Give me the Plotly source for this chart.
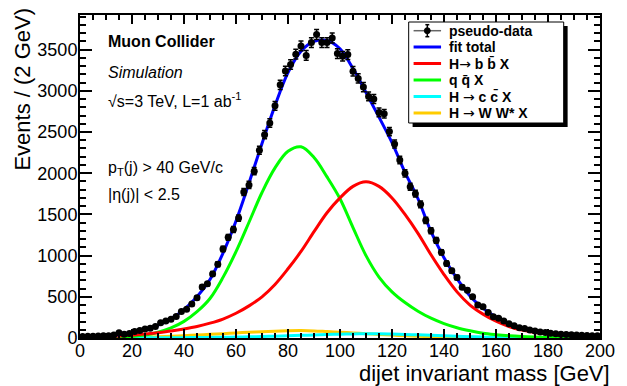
import numpy as np
import plotly.graph_objects as go

# ---------------- data ----------------
bin_centers = list(range(1, 200, 2))
counts = [18, 20, 20, 24, 26, 28, 35, 65, 45, 55,
          80, 92, 108, 118, 140, 185, 205, 228, 262, 322,
          348, 412, 488, 620, 658, 778, 895, 1080, 1222, 1318,
          1455, 1772, 1858, 2025, 2278, 2468, 2610, 2818, 3072, 3240,
          3318, 3445, 3545, 3430, 3585, 3682, 3585, 3585, 3642, 3452,
          3420, 3440, 3238, 3150, 3045, 2932, 2900, 2738, 2722, 2505,
          2355, 2160, 1998, 1835, 1752, 1622, 1428, 1302, 1185, 1040,
          905, 815, 735, 615, 580, 500, 402, 378, 310, 258,
          240, 207, 172, 150, 125, 116, 96, 86, 74, 66,
          58, 52, 47, 43, 40, 36, 33, 30, 28, 26]

curve_x = list(range(0, 205, 5))
fit_total = [12, 16, 24, 40, 62, 100, 155, 235, 345, 500,
             710, 1030, 1420, 1880, 2360, 2820, 3220, 3480, 3600, 3610,
             3510, 3270, 2980, 2680, 2370, 2010, 1690, 1290, 975, 720,
             510, 360, 255, 175, 120, 85, 60, 45, 35, 28, 22]
h_bb = [8, 11, 16, 24, 36, 48, 65, 85, 110, 140,
        180, 230, 300, 390, 500, 650, 840, 1050, 1290, 1520,
        1700, 1840, 1895, 1840, 1700, 1500, 1270, 1010, 770, 560,
        400, 290, 205, 140, 96, 68, 48, 35, 25, 18, 12]
qq = [0, 1, 3, 7, 18, 35, 70, 122, 202, 320,
      480, 736, 1048, 1405, 1766, 2064, 2266, 2320, 2190, 1955,
      1690, 1340, 1000, 740, 560, 430, 325, 240, 175, 125,
      88, 58, 40, 27, 18, 12, 8, 6, 4, 3, 2]
h_cc = [0, 0, 0, 1, 1, 2, 3, 3, 4, 6,
        7, 9, 11, 14, 18, 22, 27, 32, 37, 42,
        46, 50, 52, 52, 48, 43, 38, 32, 26, 21,
        16, 12, 9, 7, 5, 4, 2, 2, 1, 1, 0]
h_ww = [0, 1, 2, 4, 6, 10, 15, 21, 28, 36,
        45, 53, 62, 70, 77, 83, 88, 90, 86, 78,
        70, 61, 52, 43, 35, 28, 22, 17, 13, 10,
        8, 6, 4, 3, 2, 2, 1, 1, 1, 0, 0]

x_ticks = list(range(0, 201, 20))
y_ticks = list(range(0, 3501, 500))

FONT = "Liberation Sans, Arial, Helvetica, sans-serif"

# ---------------- figure ----------------
W, H = 627, 386
L, R, T, B = 80, 610, 15, 338


def px2x(px):
    return (px - L) / (R - L)


def py2y(py):
    return (B - py) / (B - T)


fig = go.Figure()
fig.add_trace(go.Scatter(x=curve_x, y=h_ww, mode="lines",
                         line=dict(color="#ffcc00", width=3, shape="spline")))
fig.add_trace(go.Scatter(x=curve_x, y=h_cc, mode="lines",
                         line=dict(color="#00ffff", width=3, shape="spline")))
fig.add_trace(go.Scatter(x=curve_x, y=qq, mode="lines",
                         line=dict(color="#00ff00", width=3, shape="spline")))
fig.add_trace(go.Scatter(x=curve_x, y=h_bb, mode="lines",
                         line=dict(color="#ff0000", width=3, shape="spline")))
fig.add_trace(go.Scatter(x=curve_x, y=fit_total, mode="lines",
                         line=dict(color="#0000ff", width=3, shape="spline")))
fig.add_trace(go.Scatter(x=bin_centers, y=counts, mode="markers", cliponaxis=False,
                         marker=dict(color="black", size=7),
                         error_y=dict(type="data", array=np.sqrt(np.array(counts, dtype=float)),
                                      color="black", thickness=1.5, width=2.5)))

axis_common = dict(showgrid=False, zeroline=False, showline=True, linewidth=2,
                   linecolor="black", mirror="allticks", ticks="inside",
                   tickcolor="black", tickwidth=1.5,
                   tickfont=dict(family=FONT, size=18, color="black"),
                   exponentformat="none", separatethousands=False)

fig.update_layout(
    width=W, height=H,
    margin=dict(l=L, r=W - R, t=T, b=H - B, pad=0),
    plot_bgcolor="white", paper_bgcolor="white",
    showlegend=False,
    xaxis=dict(range=[0, 200], tickmode="array", tickvals=x_ticks, ticklen=9,
               ticklabelstandoff=-5,
               minor=dict(dtick=5, tick0=0, ticklen=5, ticks="inside", tickcolor="black", tickwidth=1.5),
               **axis_common),
    yaxis=dict(range=[0, 3920], tickmode="array", tickvals=y_ticks, ticklen=12,
               ticklabelstandoff=-3,
               minor=dict(dtick=100, tick0=0, ticklen=6, ticks="inside", tickcolor="black", tickwidth=1.5),
               **axis_common),
)

ann = []
# axis titles
ann.append(dict(text="Events / (2 GeV)", x=px2x(21), y=py2y(6), xref="paper", yref="paper",
                xanchor="center", yanchor="top", textangle=-90, showarrow=False,
                font=dict(family=FONT, size=22, color="black")))
ann.append(dict(text="dijet invariant mass [GeV]", x=px2x(622), y=py2y(373), xref="paper", yref="paper",
                xanchor="right", yanchor="middle", showarrow=False,
                font=dict(family=FONT, size=22, color="black")))

# labels inside plot
labels = [
    ("<b>Muon Collider</b>", 42),
    ("<i>Simulation</i>", 73),
    ("√s=3 TeV, L=1 ab<sup>-1</sup>", 100),
    ("p<sub>T</sub>(j) > 40 GeV/c", 168),
    ("|η(j)| < 2.5", 194),
]
for txt, yc in labels:
    ann.append(dict(text=txt, x=px2x(107), y=py2y(yc), xref="paper", yref="paper",
                    xanchor="left", yanchor="middle", showarrow=False,
                    font=dict(family=FONT, size=16, color="black")))

# manual legend
shapes = []
lx0, lx1, ly0, ly1 = 415, 573, 22, 123
shapes.append(dict(type="rect", xref="paper", yref="paper",
                   x0=px2x(lx0 + 4), x1=px2x(lx1 + 4), y0=py2y(ly1 + 4), y1=py2y(ly0 + 4),
                   fillcolor="black", line=dict(width=0), layer="above"))
shapes.append(dict(type="rect", xref="paper", yref="paper",
                   x0=px2x(lx0), x1=px2x(lx1), y0=py2y(ly1), y1=py2y(ly0),
                   fillcolor="white", line=dict(color="black", width=1), layer="above"))

arrow = '<span style="font-family:\'DejaVu Sans\';font-weight:normal">\u2192</span>'
entries = [
    ("pseudo-data", None),
    ("fit total", "#0000ff"),
    ("H" + arrow + " b b\u0304 X", "#ff0000"),
    ("q q\u0304 X", "#00ff00"),
    ("H " + arrow + " c c\u0304 X", "#00ffff"),
    ("H " + arrow + " W W* X", "#ffcc00"),
]
row_y = [30.7, 47.0, 63.5, 80.0, 96.5, 113.0]
for (txt, col), yc in zip(entries, row_y):
    if col is None:
        shapes.append(dict(type="line", xref="paper", yref="paper",
                           x0=px2x(420), x1=px2x(448), y0=py2y(yc), y1=py2y(yc),
                           line=dict(color="#666666", width=1.5), layer="above"))
        shapes.append(dict(type="line", xref="paper", yref="paper",
                           x0=px2x(434), x1=px2x(434), y0=py2y(yc - 6), y1=py2y(yc + 6),
                           line=dict(color="black", width=1.5), layer="above"))
        for dy in (-6, 6):
            shapes.append(dict(type="line", xref="paper", yref="paper",
                               x0=px2x(432), x1=px2x(436), y0=py2y(yc + dy), y1=py2y(yc + dy),
                               line=dict(color="black", width=1.5), layer="above"))
        shapes.append(dict(type="circle", xref="paper", yref="paper",
                           x0=px2x(431), x1=px2x(437), y0=py2y(yc + 3), y1=py2y(yc - 3),
                           fillcolor="black", line=dict(color="black", width=1), layer="above"))
    else:
        shapes.append(dict(type="line", xref="paper", yref="paper",
                           x0=px2x(420), x1=px2x(448), y0=py2y(yc), y1=py2y(yc),
                           line=dict(color=col, width=3), layer="above"))
    ann.append(dict(text="<b>" + txt + "</b>", x=px2x(454), y=py2y(yc), xref="paper", yref="paper",
                    xanchor="left", yanchor="middle", showarrow=False,
                    font=dict(family=FONT, size=14, color="black")))

fig.update_layout(annotations=ann, shapes=shapes)
fig.write_html("out.html")
